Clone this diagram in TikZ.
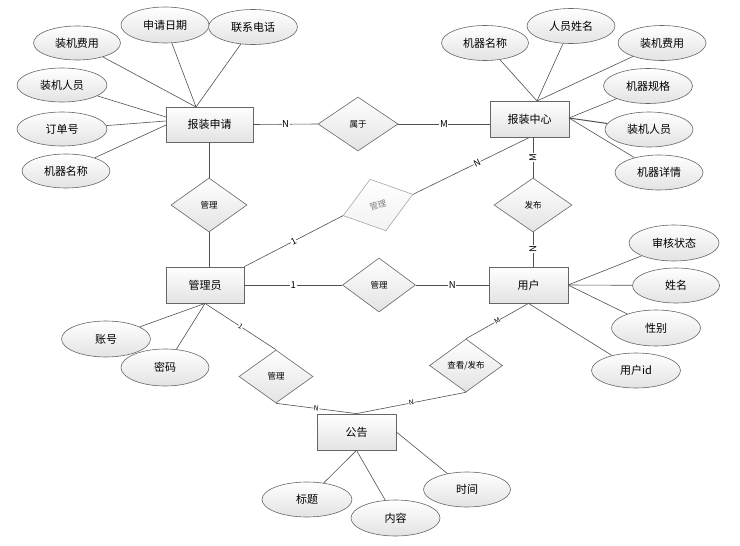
\documentclass[tikz,border=0pt]{standalone}
\usepackage{fontspec}
\setmainfont{Noto Sans CJK SC}
\usetikzlibrary{shapes.geometric,shadows}
\definecolor{lc}{HTML}{505050}
\definecolor{bc}{HTML}{666666}
\begin{document}
\begin{tikzpicture}[x=1pt,y=-1pt,
 ent/.style={rectangle, draw=bc, line width=0.8pt, top color=white, bottom color=black!11, minimum width=79pt, minimum height=36pt, inner sep=0pt, font=\fontsize{11}{13}\selectfont},
 attr/.style={ellipse, draw=bc, line width=0.6pt, top color=white, bottom color=black!11, minimum width=88pt, minimum height=35pt, inner sep=0pt, font=\fontsize{11}{13}\selectfont},
 rel/.style={diamond, draw=bc, line width=0.6pt, top color=white, bottom color=black!11, minimum width=75pt, minimum height=54pt, inner sep=0pt, font=\fontsize{8.5}{10}\selectfont},
 con/.style={draw=lc, line width=0.6pt},
 lab/.style={fill=white, inner sep=0.6pt, font=\fontsize{9.5}{10}\selectfont},
 slab/.style={fill=white, inner sep=0.4pt, font=\fontsize{9}{10}\selectfont, sloped},
 sslab/.style={fill=white, inner sep=0.3pt, font=\fontsize{7}{8}\selectfont, sloped}
]
\useasboundingbox (0,0) rectangle (740,546);

% entities
\node[ent, minimum width=87pt, minimum height=35pt] (bzsq) at (209.5,124.5) {报装申请};
\node[ent] (bzzx) at (529.5,119) {报装中心};
\node[ent, minimum width=78pt] (gly) at (205,285) {管理员};
\node[ent] (yh) at (528.5,285) {用户};
\node[ent] (gg) at (356.5,432) {公告};

% relationships
\node[rel, minimum width=80pt] (sy) at (358,124) {属于};
\node[rel, minimum width=76pt] (gl1) at (209,205) {管理};
\node[rel, minimum width=78pt] (fb) at (533,205) {发布};
\node[rel, minimum width=73pt] (gl2) at (379,285) {管理};
\node[rel, minimum width=73pt, minimum height=53pt] (ckfb) at (466,365.5) {查看/发布};
\node[rel, minimum width=74pt, minimum height=53pt] (gl3) at (276,376.5) {管理};
\node[rel, draw=black!35, top color=white, bottom color=black!5, text=black!50, rotate=17, minimum width=73pt, minimum height=54pt] (gl4) at (378,205) {管理};

% attributes of 报装申请
\node[attr, minimum width=87pt, minimum height=34pt] (a1) at (77,43) {装机费用};
\node[attr, minimum height=36pt] (a2) at (165,25) {申请日期};
\node[attr, minimum width=89pt] (a3) at (253,27) {联系电话};
\node[attr, minimum width=90pt, minimum height=34pt] (a4) at (62,85) {装机人员};
\node[attr, minimum width=90pt, minimum height=34pt] (a5) at (62,129) {订单号};
\node[attr, minimum height=34pt] (a6) at (66,171) {机器名称};

% attributes of 报装中心
\node[attr, minimum width=87pt] (b1) at (485,43) {机器名称};
\node[attr] (b2) at (571,26) {人员姓名};
\node[attr] (b3) at (662,43) {装机费用};
\node[attr, minimum width=89pt] (b4) at (648,86) {机器规格};
\node[attr] (b5) at (649,129.5) {装机人员};
\node[attr] (b6) at (659,172.5) {机器详情};

% attributes of 用户
\node[attr, minimum width=90pt, minimum height=36pt] (c1) at (674,243) {审核状态};
\node[attr, minimum width=87pt] (c2) at (676,285.5) {姓名};
\node[attr, minimum width=89pt, minimum height=36pt] (c3) at (656,328) {性别};
\node[attr, minimum width=89pt] (c4) at (636,370.5) {用户id};

% attributes of 管理员
\node[attr, minimum width=89pt, minimum height=36pt] (d1) at (106,339) {账号};
\node[attr, minimum height=37pt] (d2) at (165,367.5) {密码};

% attributes of 公告
\node[attr, minimum width=90pt] (e1) at (307,499.5) {标题};
\node[attr, minimum width=89pt, minimum height=36pt] (e2) at (395.5,518) {内容};
\node[attr, minimum width=87pt] (e3) at (467,489.5) {时间};

% attachment points
\coordinate (pA) at (196,107);
\coordinate (pB1) at (166,117);
\coordinate (pB2) at (166,121);
\coordinate (pB3) at (166,125);
\coordinate (pC) at (537,101);
\coordinate (pD) at (569,118);
\coordinate (pE) at (568,285);

% attribute connectors
\draw[con] (a1) -- (pA);
\draw[con] (a2) -- (pA);
\draw[con] (a3) -- (pA);
\draw[con] (a4) -- (pB1);
\draw[con] (a5) -- (pB2);
\draw[con] (a6) -- (pB3);
\draw[con] (b1) -- (pC);
\draw[con] (b2) -- (pC);
\draw[con] (b3) -- (pC);
\draw[con] (b4) -- (pD);
\draw[con, line width=1pt] (b5) -- (pD);
\draw[con] (b6) -- (pD);
\draw[con] (c1) -- (pE);
\draw[con] (c2) -- (pE);
\draw[con] (c3) -- (pE);
\draw[con] (c4) -- (yh.south);
\draw[con] (d1) -- (gly.south);
\draw[con] (d2) -- (gly.south);
\draw[con] (e1) -- (gg.south);
\draw[con] (e2) -- (gg.south);
\draw[con] (e3) -- (gg.east);

% relationship connectors
\draw[con] (bzsq.east) -- node[lab]{N} (sy.west);
\draw[con] (sy.east) -- node[lab]{M} (sy.east -| bzzx.west);
\draw[con] (gl1.north |- bzsq.south) -- (gl1.north);
\draw[con] (gl1.south) -- (gl1.south |- gly.north);
\draw[con] (fb.north |- bzzx.south) -- node[lab, rotate=90]{M} (fb.north);
\draw[con] (fb.south) -- node[lab, rotate=90]{N} (fb.south |- yh.north);
\draw[con] (gly.east) -- node[lab]{1} (gl2.west);
\draw[con] (gl2.east) -- node[lab]{N} (yh.west);
\draw[con] (gly.north east) -- node[slab]{1} (gl4.west);
\draw[con] (gl4.east) -- node[slab, pos=0.55]{N} (bzzx.south);
\draw[con] (gly.south) -- node[sslab]{1} (gl3.north);
\draw[con] (gl3.south) -- node[sslab]{N} (gg.north);
\draw[con] (gg.north) -- node[sslab]{N} (ckfb.south);
\draw[con] (ckfb.north) -- node[sslab]{M} (yh.south);
\end{tikzpicture}
\end{document}
